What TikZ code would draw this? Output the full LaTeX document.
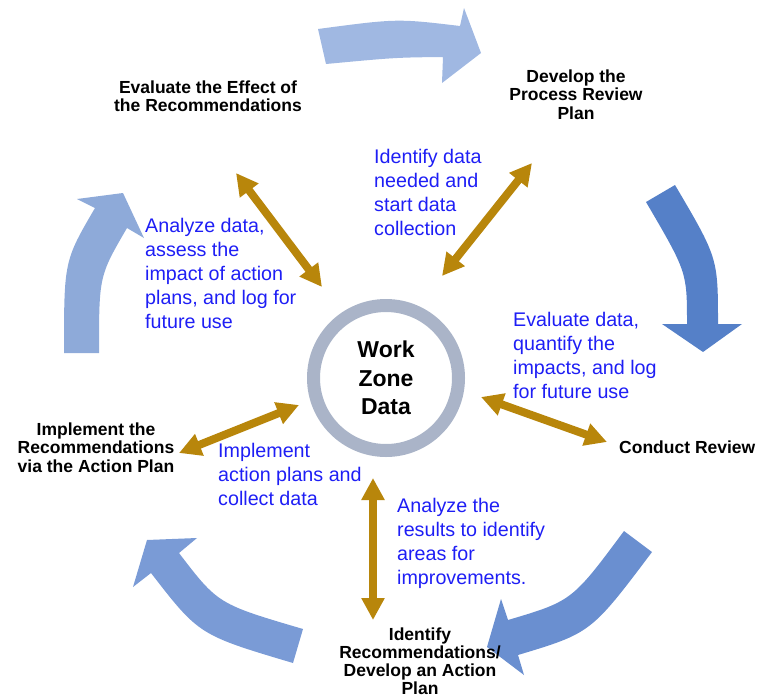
\documentclass[tikz,border=0pt]{standalone}
\usepackage{fontspec}
\setmainfont{Liberation Sans}
\usetikzlibrary{arrows.meta}
\definecolor{goldarr}{RGB}{184,134,11}
\definecolor{bluetxt}{RGB}{30,30,245}
\definecolor{ringcol}{RGB}{170,180,200}
\definecolor{arrA}{RGB}{160,184,226}
\definecolor{arrB}{RGB}{85,128,200}
\definecolor{arrC}{RGB}{106,143,208}
\definecolor{arrD}{RGB}{122,155,214}
\definecolor{arrE}{RGB}{142,170,217}
\tikzset{
  lbl/.style={font=\fontsize{17.5}{18.5}\selectfont\bfseries, align=center, inner sep=0pt, anchor=base},
  note/.style={font=\fontsize{19.7}{24}\selectfont, text=bluetxt, align=left, inner sep=0pt, anchor=base west},
  goldarrow/.style={draw=goldarr, line width=8pt, {Triangle[width=22pt,length=22pt]}-{Triangle[width=22pt,length=22pt]}},
}
\begin{document}
\begin{tikzpicture}[x=1pt,y=-1pt]
\useasboundingbox (0,0) rectangle (760,699);

% big cycle arrows
\fill[arrA] (318,29) .. controls (397,18.5) .. (460,26) -- (464,8) -- (481,53) -- (442,83) -- (443,57) .. controls (395.5,57.5) .. (326,64) -- cycle;
\fill[arrB] (646,202) -- (675,185) .. controls (718,258) .. (718,324) -- (742,324) -- (703,352) -- (662,324) -- (687,324) .. controls (687,272) .. (646,202) -- cycle;
\fill[arrC] (624,531) -- (652,552) .. controls (591,633) .. (518,655) -- (524,675) -- (487,647) -- (501,599) -- (508,620) .. controls (572,601) .. (624,531) -- cycle;
\fill[arrD] (303,629) -- (293,663) .. controls (199,635) .. (151,573) -- (133,587) -- (147,540) -- (197,538) -- (179,553) .. controls (218,604) .. (303,629) -- cycle;
\fill[arrE] (64,353) .. controls (64,261) .. (95,208) -- (77,199) -- (123,193) -- (144,238) -- (127,228) .. controls (99,276) .. (99,353) -- cycle;

% centre
\node[circle, draw=ringcol, line width=13pt, minimum size=145pt, inner sep=0pt,
      font=\fontsize{23}{28.5}\selectfont\bfseries, align=center] (wzd) at (386,378) {Work\\Zone\\Data};

% stage labels (anchor = baseline of last line)
\node[lbl] (evaluate) at (208,111.5) {Evaluate the Effect of\\the Recommendations};
\node[lbl] (develop) at (576,119) {Develop the\\Process Review\\Plan};
\node[lbl, anchor=base west] (conduct) at (619,453) {Conduct Review};
\node[lbl, font=\fontsize{17.5}{18}\selectfont\bfseries] (identify) at (420,694.5) {Identify\\Recommendations/\\Develop an Action\\Plan};
\node[lbl] (implement) at (96,472) {Implement the\\Recommendations\\via the Action Plan};

% blue notes (anchor = baseline of last line)
\node[note] (n1) at (374,235) {Identify data\\needed and\\start data\\collection};
\node[note] (n2) at (145,328) {Analyze data,\\assess the\\impact of action\\plans, and log for\\future use};
\node[note] (n3) at (513,398) {Evaluate data,\\quantify the\\impacts, and log\\for future use};
\node[note] (n4) at (218,505) {Implement\\action plans and\\collect data};
\node[note] (n5) at (397,584) {Analyze the\\results to identify\\areas for\\improvements.};

% gold double arrows
\coordinate (g1a) at (236,173); \coordinate (g1b) at (322,287);
\coordinate (g2a) at (532,163); \coordinate (g2b) at (442,276);
\coordinate (g3a) at (481,397); \coordinate (g3b) at (607,442);
\coordinate (g4a) at (179,453); \coordinate (g4b) at (299,405);
\coordinate (g5a) at (373,478); \coordinate (g5b) at (373,620);
\draw[goldarrow] (g1a) -- (g1b);
\draw[goldarrow] (g2a) -- (g2b);
\draw[goldarrow] (g3a) -- (g3b);
\draw[goldarrow] (g4a) -- (g4b);
\draw[goldarrow] (g5a) -- (g5b);
\end{tikzpicture}
\end{document}
